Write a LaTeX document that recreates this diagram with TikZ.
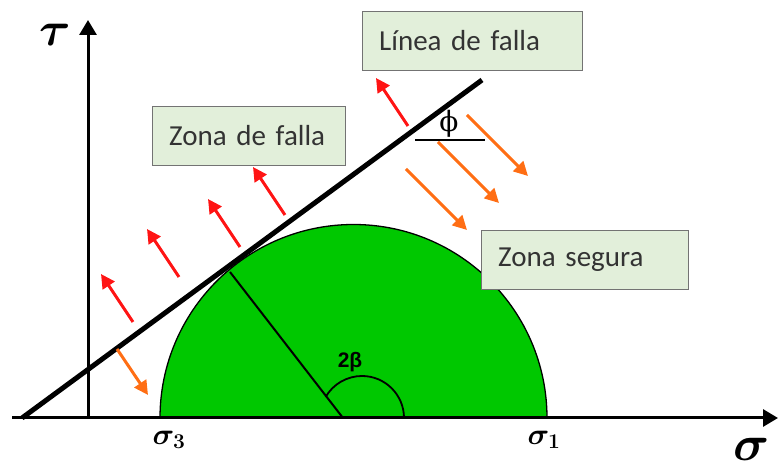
\RequirePackage{fix-cm}
\documentclass[tikz,border=0pt]{standalone}
\usepackage{amsmath,amssymb}
\usepackage{fontspec}
\setmainfont{Carlito}
\newfontfamily\arialfont{Liberation Sans}
\newfontfamily\phifont{DejaVu Serif}
\usetikzlibrary{arrows.meta}
\definecolor{safegreen}{RGB}{0,200,0}
\definecolor{boxgreen}{RGB}{226,239,218}
\definecolor{pushred}{RGB}{255,20,20}
\definecolor{pushorange}{RGB}{255,110,20}

\begin{document}
\begin{tikzpicture}[
  x=1pt, y=1pt,
  axis/.style={line width=3pt, -{Triangle[length=15pt,width=17pt]}},
  label box/.style={draw=black!55, fill=boxgreen, anchor=west, minimum height=59pt,
    text width=#1, inner xsep=17pt, align=left, text=black!80,
    font=\fontsize{29}{34}\selectfont},
  push/.style={line width=3pt, -{Triangle[length=14pt,width=14pt]}},
  greek/.style={inner sep=0pt, font=\fontsize{#1}{#1}\selectfont}
]
\useasboundingbox (0,0) rectangle (778,470);

% Mohr circle
\fill[safegreen, draw=black, line width=1.3pt] (160,52) arc[start angle=180, end angle=0, radius=193.5pt] -- cycle;
\coordinate (c) at (343,52);
\coordinate (t) at (230,198);
\draw[line width=2pt] (c) -- (t);
\draw[line width=1.8pt] (404,52) arc[start angle=0, end angle=150, radius=42pt];
\node[inner sep=0pt, font=\arialfont\bfseries\fontsize{21}{21}\selectfont] (beta) at (350,108) {2β};

% axes
\coordinate (o) at (12,52);
\coordinate (oy) at (88,52);
\draw[axis] (o) -- (778,52);
\draw[axis] (oy) -- (88,450);
\node[greek=48] (tau) at (55,435) {$\boldsymbol{\tau}$};
\node[greek=50] (sig) at (752,21) {$\boldsymbol{\sigma}$};
\node[greek=30] (s3) at (169,30) {$\boldsymbol{\sigma_3}$};
\node[greek=30] (s1) at (544,30) {$\boldsymbol{\sigma_1}$};

% failure line
\coordinate (f0) at (22,52);
\coordinate (f1) at (482,390);
\draw[line width=5pt] (f0) -- (f1);
\draw[line width=2.5pt] (415,330) -- (485,330);
\node[inner sep=0pt, font=\phifont\fontsize{28}{28}\selectfont] (phi) at (449,346) {ϕ};

% arrows
\foreach \a/\b in {133/148, 179/193, 240/223, 285/255, 408/344}
  \draw[push, pushred] (\a,\b) -- ++(-32,48);
\foreach \a/\b in {467/355, 438/328, 406/301}
  \draw[push, pushorange] (\a,\b) -- ++(61,-61);
\draw[push, pushorange] (117,121) -- (148,75);

% labels
\node[label box=186pt] (linea) at (362,429) {Línea de falla};
\node[label box=159pt] (zfalla) at (152,334.5) {Zona de falla};
\node[label box=173pt] (zsegura) at (481,210) {Zona segura};
\end{tikzpicture}
\end{document}
